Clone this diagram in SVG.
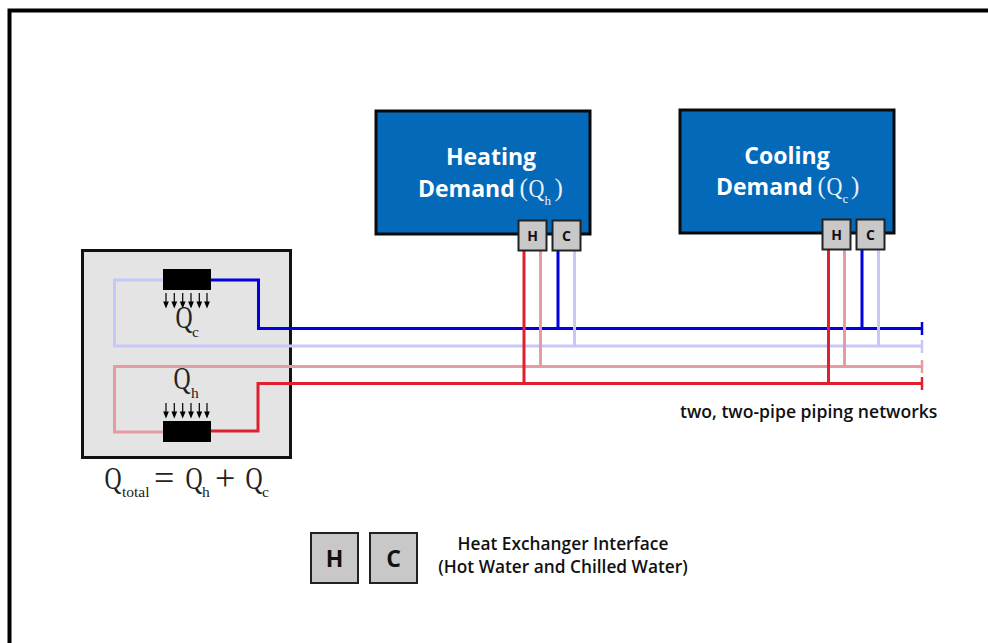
<svg xmlns="http://www.w3.org/2000/svg" width="988" height="643" viewBox="0 0 988 643">
<defs>
<path id="dn" d="M0 0V10M-2 9H2L0 14Z"/>
</defs>
<style>
.s{font-family:"Open Sans","Noto Sans",sans-serif;font-weight:700}
.w{fill:#fff;font-size:23px}
.m{font-size:17.300px;font-weight:600;fill:#111}
.q{font-family:"Liberation Serif",serif;fill:#222;font-weight:400;font-size:32px}
.o{font-family:"Liberation Serif",serif;fill:#222;font-size:36px}
.b{font-family:"Liberation Serif",serif;fill:#222;font-size:15.500px}
.qw{font-family:"Liberation Serif",serif;fill:#e8f0f8;font-size:25px}
.bw{font-family:"Liberation Serif",serif;fill:#e8f0f8;font-size:13px}
.p{fill:none;stroke-width:3}
.e{fill:none;stroke-width:2.500}
.db{stroke:#0000e0}.lb{stroke:#c6c8fa}.dr{stroke:#e0202e}.lr{stroke:#e89aa2}
.box{fill:#0569b9;stroke:#0a0a0a;stroke-width:3}
.hx{fill:#c8c8c8;stroke:#222;stroke-width:2}
.arr use{stroke:#000;stroke-width:1.200}
</style>
<rect width="988" height="643" fill="#fff"/>
<path id="frame" d="M9.500 643V10.500H988" fill="none" stroke="#000" stroke-width="4"/>
<g id="plant">
<rect x="82.500" y="250.500" width="208" height="207" fill="#e4e4e4" stroke="#111" stroke-width="3"/>
</g>
<g id="connectors">
<path class="p lb" d="M163 280H114.500V346H922"/>
<path class="p lr" d="M163 432H114.500V366.500H922"/>
<path class="p db" d="M210 280H258.500V328.500H922"/>
<path class="p dr" d="M210 431H258V383.500H922"/>
<path class="p lb" d="M574.500 250V346M878.500 250V346"/>
<path class="p lr" d="M540.500 250V366M844.500 250V366"/>
<path class="p db" d="M558 250V328M862 250V328"/>
<path class="p dr" d="M524 250V383M828.500 250V383"/>
<path class="e db" d="M922 322V335"/>
<path class="e lb" d="M922 340V353"/>
<path class="e lr" d="M922 360V373"/>
<path class="e dr" d="M922 377V390"/>
</g>
<g id="cooling-coil">
<rect x="163" y="269" width="48" height="21" fill="#000"/>
<g class="arr">
<use href="#dn" x="166" y="293"/><use href="#dn" x="174.300" y="293"/><use href="#dn" x="182.700" y="293"/><use href="#dn" x="191" y="293"/><use href="#dn" x="199.300" y="293"/><use href="#dn" x="207" y="293"/>
</g>
<text class="q" transform="translate(175.500 328) scale(.74 1)">Q</text>
<text class="b" x="192" y="337">c</text>
</g>
<g id="heating-coil">
<rect x="163" y="421" width="48" height="21" fill="#000"/>
<g class="arr">
<use href="#dn" x="166" y="403"/><use href="#dn" x="174.300" y="403"/><use href="#dn" x="182.700" y="403"/><use href="#dn" x="191" y="403"/><use href="#dn" x="199.300" y="403"/><use href="#dn" x="207" y="403"/>
</g>
<text class="q" transform="translate(173.500 389) scale(.74 1)">Q</text>
<text class="b" x="191" y="398">h</text>
</g>
<g id="equation">
<text class="q" transform="translate(104.500 489) scale(.74 1)">Q</text>
<text class="b" x="122" y="497">total</text>
<text class="o" x="154" y="490">=</text>
<text class="q" transform="translate(185.500 489) scale(.74 1)">Q</text>
<text class="b" x="202" y="497">h</text>
<text class="o" x="215" y="490">+</text>
<text class="q" transform="translate(245.500 489) scale(.74 1)">Q</text>
<text class="b" x="262" y="497">c</text>
</g>
<g id="heating-demand">
<rect class="box" x="376" y="111" width="214" height="123"/>
<text class="s w" x="491" y="165" text-anchor="middle">Heating</text>
<text class="s w" x="418" y="197">Demand</text>
<text class="qw" x="519.500" y="196">(</text>
<text class="qw" transform="translate(528.500 197) scale(.88 1)">Q</text>
<text class="bw" x="544.500" y="205">h</text>
<text class="qw" x="554.500" y="196">)</text>
<rect class="hx" x="518.500" y="220.500" width="28" height="30"/>
<rect class="hx" x="552.500" y="220.500" width="28" height="30"/>
<text class="s" x="532.500" y="241" text-anchor="middle" font-size="14" fill="#111">H</text>
<text class="s" x="566.500" y="241" text-anchor="middle" font-size="14" fill="#111">C</text>
</g>
<g id="cooling-demand">
<rect class="box" x="680" y="110" width="214" height="123"/>
<text class="s w" x="787" y="164" text-anchor="middle">Cooling</text>
<text class="s w" x="716" y="195">Demand</text>
<text class="qw" x="817.500" y="194">(</text>
<text class="qw" transform="translate(826.500 195) scale(.88 1)">Q</text>
<text class="bw" x="842.500" y="203">c</text>
<text class="qw" x="851" y="194">)</text>
<rect class="hx" x="822.500" y="219.500" width="28" height="30"/>
<rect class="hx" x="856.500" y="219.500" width="28" height="30"/>
<text class="s" x="836.500" y="240" text-anchor="middle" font-size="14" fill="#111">H</text>
<text class="s" x="870.500" y="240" text-anchor="middle" font-size="14" fill="#111">C</text>
</g>
<g id="network-label">
<text class="s m" x="680" y="418" style="font-size:17.600px">two, two-pipe piping networks</text>
</g>
<g id="legend">
<rect class="hx" x="311" y="533" width="47" height="50"/>
<rect class="hx" x="370" y="533" width="47" height="50"/>
<text class="s" x="334.500" y="567" text-anchor="middle" font-size="23" fill="#111">H</text>
<text class="s" x="393.500" y="567" text-anchor="middle" font-size="23" fill="#111">C</text>
<text class="s m" x="563" y="550" text-anchor="middle">Heat Exchanger Interface</text>
<text class="s m" x="563" y="573" text-anchor="middle">(Hot Water and Chilled Water)</text>
</g>
</svg>
